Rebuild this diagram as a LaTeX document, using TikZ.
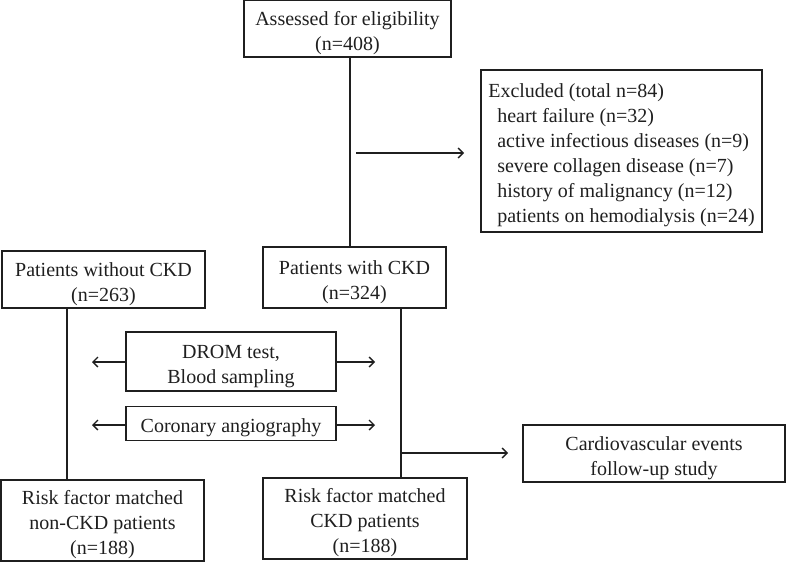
\documentclass[tikz,border=0pt]{standalone}
\usepackage{fontspec}
\setmainfont{Liberation Serif}
\usetikzlibrary{arrows.meta}
\definecolor{ink}{rgb}{0.12,0.12,0.12}
\newcommand{\tstr}{\rule{0pt}{23pt}}
\begin{document}
\begin{tikzpicture}[x=1pt,y=-1pt,
  box/.style={draw=ink,line width=1.1pt,text=ink,inner sep=0pt,align=center,
    font=\fontsize{20pt}{25pt}\selectfont},
  line/.style={draw=ink,line width=1.3pt},
  arr/.style={line,-{Straight Barb[length=5pt,width=10pt,line width=1.3pt]}}]
\useasboundingbox (0,0) rectangle (800,562);
\node[box,minimum width=207pt,minimum height=57pt] (assess) at (347.5,28.5)
  {\tstr Assessed for eligibility\\(n=408)};
\node[box,minimum width=281pt,minimum height=162pt,align=left] (excl) at (621.5,151)
  {\tstr Excluded (total n=84)\\
   \hspace*{9pt}heart failure (n=32)\\
   \hspace*{9pt}active infectious diseases (n=9)\\
   \hspace*{9pt}severe collagen disease (n=7)\\
   \hspace*{9pt}history of malignancy (n=12)\\
   \hspace*{9pt}patients on hemodialysis (n=24)};
\node[box,minimum width=203pt,minimum height=57pt] (without) at (103.5,279.5)
  {\tstr Patients without CKD\\(n=263)};
\node[box,minimum width=183pt,minimum height=61pt] (with) at (354.5,277.5)
  {\tstr Patients with CKD\\(n=324)};
\node[box,minimum width=210pt,minimum height=59pt] (drom) at (231,361.5)
  {\tstr DROM test,\\Blood sampling};
\node[box,minimum width=210pt,minimum height=34pt] (cor) at (231,423.5)
  {\tstr Coronary angiography};
\node[box,minimum width=203pt,minimum height=81pt] (rfl) at (102.5,520.5)
  {\tstr Risk factor matched\\non-CKD patients\\(n=188)};
\node[box,minimum width=204pt,minimum height=81pt] (rfr) at (365,518.5)
  {\tstr Risk factor matched\\CKD patients\\(n=188)};
\node[box,minimum width=262pt,minimum height=57pt] (cv) at (654,453.5)
  {\tstr Cardiovascular events\\follow-up study};
% guide coordinates
\coordinate (xa) at (350,0);
\coordinate (xl) at (67,0);
\coordinate (xr) at (401,0);
\coordinate (ex1) at (356,153);
\coordinate (ex2) at (464,153);
\coordinate (cv1) at (401,453);
\coordinate (cv2) at (508,453);
\coordinate (dl) at (92,362);
\coordinate (dr) at (375,362);
\coordinate (cl) at (92,425);
\coordinate (cr) at (375,425);
% connectors
\draw[line] (xa |- assess.south) -- (xa |- with.north);
\draw[arr] (ex1) -- (ex2);
\draw[line] (xl |- without.south) -- (xl |- rfl.north);
\draw[line] (xr |- with.south) -- (xr |- rfr.north);
\draw[arr] (cv1) -- (cv2);
\draw[arr] (drom.west |- dl) -- (dl);
\draw[arr] (drom.east |- dr) -- (dr);
\draw[arr] (cor.west |- cl) -- (cl);
\draw[arr] (cor.east |- cr) -- (cr);
\end{tikzpicture}
\end{document}
